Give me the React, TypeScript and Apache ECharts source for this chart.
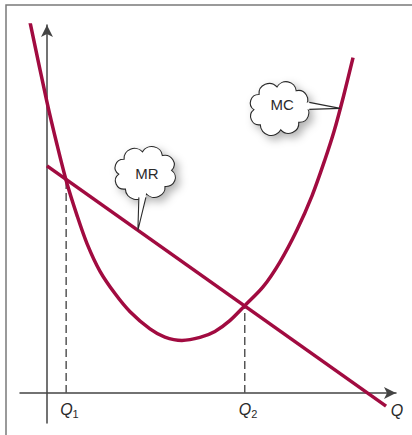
import React, { useEffect, useRef } from "react";
import * as echarts from "echarts";

// Marginal cost curve (U-shaped), quantity vs. price units
const mcCurve: [number, number][] = [
  [-4.8, 99.5], [0, 78.0], [2.8, 66.7], [5.6, 56.3], [8.5, 47.5],
  [11.3, 40.0], [14.9, 32.7], [19.2, 26.6], [23.4, 21.8], [29.0, 17.2],
  [33.2, 15.0], [38.0, 14.1], [43.1, 14.9], [47.3, 16.5], [51.5, 19.4],
  [55.8, 23.5], [60.9, 28.5], [65.6, 35.1], [70.4, 43.7], [74.7, 53.0],
  [78.3, 62.6], [80.9, 70.3], [83.5, 79.5], [86.2, 89.9],
];

// Marginal revenue line (downward sloping)
const mrLine: [number, number][] = [
  [0, 60.9],
  [95.5, -3.5],
];

// Where MR meets MC: Q1 and Q2
const qLabels = ["1", "2"];
const qPoints: [number, number][] = [
  [5.4, 57.2],
  [55.7, 23.3],
];

// Callout labels and the point on each curve they point to
const calloutLabels = ["MR", "MC"];
const calloutTargets: [number, number][] = [
  [25.6, 43.6],
  [82.6, 76.3],
];

const CURVE = "#a10b40";
const INK = "#2b2b2b";
const FONT = "'Liberation Sans', Arial, sans-serif";

const CLOUD_PATH =
  "M 22 72 A 13.5 13.5 0 0 1 12 48 A 13.2 13.2 0 0 1 20 24 A 16 16 0 0 1 48 12 " +
  "A 16 16 0 0 1 78 18 A 14.5 14.5 0 0 1 92 42 A 14.5 14.5 0 0 1 82 68 " +
  "A 16 16 0 0 1 54 80 A 17 17 0 0 1 22 72 Z";

echarts.graphic.registerShape("cloud", echarts.graphic.extendPath(CLOUD_PATH, {}) as any);

// Per-callout layout, relative to the pointer tip (pixels)
const calloutLayout = [
  { cloud: [-27, -86], scale: [0.66, 0.62], base: [[1, -33], [8, -33]], inner: [[1, -38], [8, -38]], text: [9, -57] },
  { cloud: [-94, -29], scale: [0.64, 0.63], base: [[-31, -6], [-31, 1]], inner: [[-37, -6], [-37, 1]], text: [-58, -4] },
];

export default function App() {
  const ref = useRef<HTMLDivElement>(null);

  useEffect(() => {
    if (!ref.current) return;
    const chart = echarts.init(ref.current, null, { renderer: "svg" });

    const series: any[] = [
      ...qPoints.map((p) => ({
        type: "line",
        data: [[p[0], 0], p],
        symbol: "none",
        silent: true,
        lineStyle: { color: "#555", width: 1.5, type: [8, 4] },
        z: 1,
      })),
      {
        type: "line",
        name: "MR",
        data: mrLine,
        symbol: "none",
        lineStyle: { color: CURVE, width: 3.5 },
        z: 3,
      },
      {
        type: "line",
        name: "MC",
        data: mcCurve,
        smooth: 0.3,
        symbol: "none",
        lineStyle: { color: CURVE, width: 3.5 },
        z: 3,
      },
    ];

    const axisLine = {
      onZero: true,
      symbol: ["none", "arrow"],
      symbolSize: [9, 12],
      lineStyle: { color: "#444", width: 1.5 },
    };

    chart.setOption({
      animation: false,
      grid: { left: 20, right: 16, top: 25, bottom: 12 },
      xAxis: {
        type: "value",
        min: -7.6,
        max: 98.3,
        axisLine,
        axisTick: { show: false },
        axisLabel: { show: false },
        splitLine: { show: false },
      },
      yAxis: {
        type: "value",
        min: -8.04,
        max: 98.66,
        axisLine,
        axisTick: { show: false },
        axisLabel: { show: false },
        splitLine: { show: false },
      },
      series,
    });

    const toPx = (p: [number, number]) =>
      chart.convertToPixel({ gridIndex: 0 }, p) as number[];

    const graphics: any[] = [
      {
        type: "polyline",
        shape: { points: [[6, 435], [6, 5], [412, 5]] },
        style: { stroke: "#7a7a7a", lineWidth: 1.5, fill: "none" },
        z: 50,
      },
    ];

    qPoints.forEach((p, i) => {
      const [x, y] = toPx([p[0], 0]);
      graphics.push({
        type: "text",
        x: x - 6,
        y: y + 8,
        style: {
          text: `{q|Q}{s|${qLabels[i]}}`,
          fill: INK,
          align: "left",
          verticalAlign: "top",
          rich: {
            q: { fontSize: 16, fontStyle: "italic", fontFamily: FONT, fill: INK, lineHeight: 16 },
            s: { fontSize: 11, fontFamily: FONT, fill: INK, padding: [9, 0, 0, 0], lineHeight: 11 },
          },
        },
        z: 60,
      });
    });

    const origin = toPx([0, 0]);
    graphics.push({
      type: "text",
      x: 397,
      y: origin[1] + 9,
      style: {
        text: "Q",
        fill: INK,
        font: `italic 16px ${FONT}`,
        align: "center",
        verticalAlign: "top",
      },
      z: 60,
    });

    calloutTargets.forEach((t, i) => {
      const [tx, ty] = toPx(t);
      const L = calloutLayout[i];
      const b1 = [tx + L.base[0][0], ty + L.base[0][1]];
      const b2 = [tx + L.base[1][0], ty + L.base[1][1]];
      const i1 = [tx + L.inner[0][0], ty + L.inner[0][1]];
      const i2 = [tx + L.inner[1][0], ty + L.inner[1][1]];
      graphics.push(
        {
          type: "cloud",
          x: tx + L.cloud[0],
          y: ty + L.cloud[1],
          scaleX: L.scale[0],
          scaleY: L.scale[1],
          style: {
            fill: "#fff",
            stroke: INK,
            lineWidth: 1.1,
            strokeNoScale: true,
            shadowBlur: 8,
            shadowOffsetX: 4,
            shadowOffsetY: 4,
            shadowColor: "rgba(0,0,0,0.3)",
          },
          z: 40,
        },
        {
          type: "polygon",
          shape: { points: [i1, b1, [tx, ty], b2, i2] },
          style: { fill: "#fff", stroke: "none" },
          z: 41,
        },
        {
          type: "polyline",
          shape: { points: [b1, [tx, ty], b2] },
          style: { stroke: INK, lineWidth: 1.1, fill: "none" },
          z: 42,
        },
        {
          type: "text",
          x: tx + L.text[0],
          y: ty + L.text[1],
          style: {
            text: calloutLabels[i],
            fill: INK,
            font: `15px ${FONT}`,
            align: "center",
            verticalAlign: "middle",
          },
          z: 43,
        }
      );
    });

    chart.setOption({ graphic: graphics });

    return () => chart.dispose();
  }, []);

  return (
    <div
      ref={ref}
      style={{ position: "fixed", left: 0, top: 0, width: 412, height: 435, background: "#fff" }}
    />
  );
}
